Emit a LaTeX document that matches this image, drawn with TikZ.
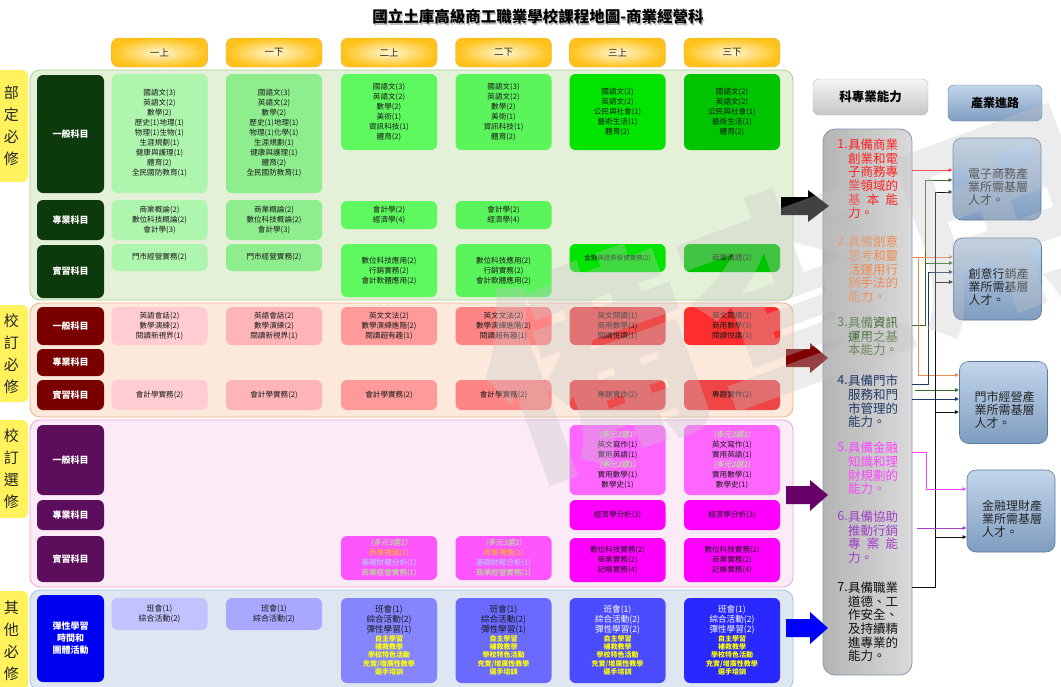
\documentclass[tikz,border=0pt]{standalone}
\usepackage{fontspec}
\setmainfont{Noto Sans CJK TC}
\newfontfamily\slcjk[FakeSlant=0.2]{Noto Sans CJK TC}
\usetikzlibrary{arrows.meta}
\definecolor{pnlG}{HTML}{E4F1D8}\definecolor{pnlGd}{HTML}{A9D18E}
\definecolor{pnlR}{HTML}{FCE9DC}\definecolor{pnlRd}{HTML}{F4B183}
\definecolor{pnlP}{HTML}{FCEAF6}\definecolor{pnlPd}{HTML}{E6A8D7}
\definecolor{pnlB}{HTML}{DEE6F2}\definecolor{pnlBd}{HTML}{9DC3E6}
\definecolor{hdrIn}{HTML}{FFF6D0}\definecolor{hdrOut}{HTML}{FFC21A}\definecolor{hdrLine}{HTML}{E8B040}
\definecolor{tagY}{HTML}{FFF25C}
\definecolor{labG}{HTML}{0D3A0D}\definecolor{labR}{HTML}{7A0000}\definecolor{labP}{HTML}{5C0D5C}\definecolor{labB}{HTML}{0000F0}
\definecolor{g1}{HTML}{AEF5AE}\definecolor{g2}{HTML}{8EEE8E}\definecolor{g3}{HTML}{5EF95E}\definecolor{g4}{HTML}{5AF55A}\definecolor{g5}{HTML}{00E400}\definecolor{g6}{HTML}{00C400}
\definecolor{r1}{HTML}{FFCDD1}\definecolor{r2}{HTML}{FFB4B8}\definecolor{r3}{HTML}{FF9A9A}\definecolor{r4}{HTML}{FF8585}\definecolor{r5}{HTML}{EE4B4B}\definecolor{r6}{HTML}{FF2E2E}\definecolor{r6b}{HTML}{F04545}
\definecolor{m1}{HTML}{FF66FF}\definecolor{m2}{HTML}{FF00FF}\definecolor{m3}{HTML}{FF55FF}
\definecolor{b1}{HTML}{C2C2FF}\definecolor{b2}{HTML}{A8A8FF}\definecolor{b3}{HTML}{8585FF}\definecolor{b4}{HTML}{6A6AFF}\definecolor{b5}{HTML}{4B4BFF}\definecolor{b6}{HTML}{2929FF}
\definecolor{tGreen}{HTML}{A6FF80}\definecolor{tOrange}{HTML}{FFC000}\definecolor{tBlue}{HTML}{A0DCFF}\definecolor{tYel}{HTML}{FFFF00}
\definecolor{aR}{HTML}{FF2020}\definecolor{aO}{HTML}{F08A50}\definecolor{aG}{HTML}{3F6B2A}\definecolor{aB}{HTML}{1F3A68}\definecolor{aM}{HTML}{FF44FF}\definecolor{aP}{HTML}{A040C8}\definecolor{aK}{HTML}{111111}
\definecolor{carT}{HTML}{C2D5EB}\definecolor{carB}{HTML}{7F9DC0}\definecolor{carD}{HTML}{5A7A9E}
\definecolor{ablL}{HTML}{B4B4B4}\definecolor{ablR}{HTML}{DADADA}\definecolor{ablD}{HTML}{8497B0}
\definecolor{arrR}{HTML}{7F0000}\definecolor{arrP}{HTML}{660066}
\begin{document}
\begin{tikzpicture}[x=1pt,y=-1pt,
  every node/.style={inner sep=0pt},
  panel/.style={rounded corners=10pt, line width=0.8pt, minimum width=763pt},
  hdr/.style={rounded corners=7pt, inner color=hdrIn, outer color=hdrOut, draw=hdrLine, line width=0.4pt, minimum width=96pt, minimum height=29pt, font=\fontsize{9.5}{10}\selectfont, text=black!85},
  tag/.style={rounded corners=6pt, fill=tagY, minimum width=33pt, align=center, font=\fontsize{15}{22}\selectfont, text=black!85},
  lab/.style={rounded corners=6pt, minimum width=67pt, align=center, text=white, font=\fontsize{9}{12}\selectfont\bfseries},
  cb/.style={rounded corners=6pt, minimum width=96pt, align=center, text=black!90, font=\fontsize{7.6}{10}\selectfont},
  abn/.style={anchor=north east, font=\fontsize{12.5}{13.6}\selectfont},
  abl/.style={anchor=north west, align=left, font=\fontsize{12.5}{13.6}\selectfont},
  car/.style={rounded corners=9pt, top color=carT, bottom color=carB, draw=carD, line width=0.6pt, minimum width=88pt, minimum height=82pt},
  cart/.style={align=left, font=\fontsize{12}{12.8}\selectfont, text=black!85},
  conn/.style={line width=0.9pt, -{Latex[length=4pt,width=4pt]}},
  line/.style={line width=0.9pt}
]
\useasboundingbox (0,0) rectangle (1061,686);
\fill[white] (0,0) rectangle (1061,686);

% title
\node[font=\fontsize{15.5}{16}\selectfont\bfseries, text=gray!55] (titlesh) at (539.2,18.2) {國立土庫高級商工職業學校課程地圖-商業經營科};
\node[font=\fontsize{15.5}{16}\selectfont\bfseries, text=black] (title) at (538,17) {國立土庫高級商工職業學校課程地圖-商業經營科};

% headers
\node[hdr] (h1) at (159.5,52.5) {一上};
\node[hdr] (h2) at (274,52.5) {一下};
\node[hdr] (h3) at (389,52.5) {二上};
\node[hdr] (h4) at (503.5,52.5) {二下};
\node[hdr] (h5) at (617.5,52.5) {三上};
\node[hdr] (h6) at (732,52.5) {三下};

% panels
\node[panel, fill=pnlG, draw=pnlGd, minimum height=230pt] (P1) at (411.5,185) {};
\node[panel, fill=pnlR, draw=pnlRd, minimum height=114pt] (P2) at (411.5,360) {};
\node[panel, fill=pnlP, draw=pnlPd, minimum height=167pt] (P3) at (411.5,503.5) {};
\node[panel, fill=pnlB, draw=pnlBd, minimum height=100pt] (P4) at (411.5,640) {};

% side tags
\node[tag, minimum height=112pt] (T1) at (11.5,126) {部\\定\\必\\修};
\node[tag, minimum height=97pt] (T2) at (11.5,353.5) {校\\訂\\必\\修};
\node[tag, minimum height=98pt] (T3) at (11.5,469) {校\\訂\\選\\修};
\node[tag, minimum height=100pt] (T4) at (11.5,641) {其\\他\\必\\修};

% row labels
\node[lab, fill=labG, minimum height=118pt] (L1) at (70.5,134) {一般科目};
\node[lab, fill=labG, minimum height=40pt] (L2) at (70.5,220) {專業科目};
\node[lab, fill=labG, minimum height=53pt] (L3) at (70.5,271.5) {實習科目};
\node[lab, fill=labR, minimum height=38pt] (L4) at (70.5,326) {一般科目};
\node[lab, fill=labR, minimum height=27pt] (L5) at (70.5,362.5) {專業科目};
\node[lab, fill=labR, minimum height=30pt] (L6) at (70.5,395) {實習科目};
\node[lab, fill=labP, minimum height=70pt] (L7) at (70.5,460) {一般科目};
\node[lab, fill=labP, minimum height=30pt] (L8) at (70.5,515) {專業科目};
\node[lab, fill=labP, minimum height=46pt] (L9) at (70.5,559) {實習科目};
\node[lab, fill=labB, minimum height=87pt] (L10) at (70.5,638.5) {彈性學習\\時間和\\團體活動};

% 部定 一般
\node[cb, fill=g1, minimum height=119pt] (g1n) at (159.5,133.5) {國語文(3)\\英語文(2)\\數學(2)\\歷史(1)地理(1)\\物理(1)生物(1)\\生涯規劃(1)\\健康與護理(1)\\體育(2)\\全民國防教育(1)};
\node[cb, fill=g2, minimum height=119pt] (g2n) at (274,133.5) {國語文(3)\\英語文(2)\\數學(2)\\歷史(1)地理(1)\\物理(1)化學(1)\\生涯規劃(1)\\健康與護理(1)\\體育(2)\\全民國防教育(1)};
\node[cb, fill=g3, minimum height=76pt] (g3n) at (389,112) {國語文(3)\\英語文(2)\\數學(2)\\美術(1)\\資訊科技(1)\\體育(2)};
\node[cb, fill=g4, minimum height=76pt] (g4n) at (503.5,112) {國語文(3)\\英語文(2)\\數學(2)\\美術(1)\\資訊科技(1)\\體育(2)};
\node[cb, fill=g5, minimum height=76pt] (g5n) at (617.5,112) {國語文(2)\\英語文(2)\\公民與社會(1)\\藝術生活(1)\\體育(2)};
\node[cb, fill=g6, minimum height=76pt] (g6n) at (732,112) {國語文(2)\\英語文(2)\\公民與社會(1)\\藝術生活(1)\\體育(2)};
% 部定 專業
\node[cb, fill=g1, minimum height=40pt] (p1) at (159.5,220) {商業概論(2)\\數位科技概論(2)\\會計學(3)};
\node[cb, fill=g2, minimum height=40pt] (p2) at (274,220) {商業概論(2)\\數位科技概論(2)\\會計學(3)};
\node[cb, fill=g3, minimum height=28pt] (p3) at (389,215) {會計學(2)\\經濟學(4)};
\node[cb, fill=g4, minimum height=28pt] (p4) at (503.5,215) {會計學(2)\\經濟學(4)};
% 部定 實習
\node[cb, fill=g1, minimum height=27pt] (s1) at (159.5,257.5) {門市經營實務(2)};
\node[cb, fill=g2, minimum height=27pt] (s2) at (274,257.5) {門市經營實務(2)};
\node[cb, fill=g3, minimum height=53pt] (s3) at (389,270.5) {數位科技應用(2)\\行銷實務(2)\\會計軟體應用(2)};
\node[cb, fill=g4, minimum height=53pt] (s4) at (503.5,270.5) {數位科技應用(2)\\行銷實務(2)\\會計軟體應用(2)};
\node[cb, fill=g5, minimum height=28pt, font=\fontsize{6.5}{8}\selectfont] (s5) at (617.5,258) {金融與證券投資實務(2)};
\node[cb, fill=g6, minimum height=28pt] (s6) at (732,258) {商業溝通(2)};

% 校訂必修 一般
\node[cb, fill=r1, minimum height=38pt] (rg1) at (159.5,326) {英語會話(2)\\數學演練(2)\\閱讀新視界(1)};
\node[cb, fill=r2, minimum height=38pt] (rg2) at (274,326) {英語會話(2)\\數學演練(2)\\閱讀新視界(1)};
\node[cb, fill=r3, minimum height=38pt] (rg3) at (389,326) {英文文法(2)\\數學演練進階(2)\\閱讀超有趣(1)};
\node[cb, fill=r4, minimum height=38pt] (rg4) at (503.5,326) {英文文法(2)\\數學演練進階(2)\\閱讀超有趣(1)};
\node[cb, fill=r5, minimum height=38pt] (rg5) at (617.5,326) {英文閱讀(1)\\商用數學(3)\\閱讀悅讀(1)};
\node[cb, fill=r6, minimum height=38pt] (rg6) at (732,326) {英文閱讀(1)\\商用數學(3)\\閱讀悅讀(1)};
% 校訂必修 實習
\node[cb, fill=r1, minimum height=30pt] (rs1) at (159.5,395) {會計學實務(2)};
\node[cb, fill=r2, minimum height=30pt] (rs2) at (274,395) {會計學實務(2)};
\node[cb, fill=r3, minimum height=30pt] (rs3) at (389,395) {會計學實務(2)};
\node[cb, fill=r4, minimum height=30pt] (rs4) at (503.5,395) {會計學實務(2)};
\node[cb, fill=r5, minimum height=30pt] (rs5) at (617.5,395) {專題實作(2)};
\node[cb, fill=r6b, minimum height=30pt] (rs6) at (732,395) {專題實作(2)};

% 校訂選修
\node[cb, fill=m1, minimum height=70pt] (eg5) at (617.5,460) {{\slcjk\color{tGreen}(多元2選1)}\\英文寫作(1)\\實用英語(1)\\{\slcjk\color{tGreen}(多元2選1)}\\實用數學(1)\\數學史(1)};
\node[cb, fill=m1, minimum height=70pt] (eg6) at (732,460) {{\slcjk\color{tGreen}(多元2選1)}\\英文寫作(1)\\實用英語(1)\\{\slcjk\color{tGreen}(多元2選1)}\\實用數學(1)\\數學史(1)};
\node[cb, fill=m2, minimum height=30pt] (ep5) at (617.5,515) {經濟學分析(3)};
\node[cb, fill=m2, minimum height=30pt] (ep6) at (732,515) {經濟學分析(3)};
\node[cb, fill=m3, minimum height=44pt] (es3) at (389,558) {{\slcjk\color{tGreen}(多元3選1)}\\{\color{tOrange}商業禮儀(1)}\\{\color{tBlue}基礎財報分析(1)}\\{\color{tGreen}商業經營實務(1)}};
\node[cb, fill=m3, minimum height=44pt] (es4) at (503.5,558) {{\slcjk\color{tGreen}(多元3選1)}\\{\color{tOrange}商業禮儀(1)}\\{\color{tBlue}基礎財報分析(1)}\\{\color{tGreen}商業經營實務(1)}};
\node[cb, fill=m2, minimum height=44pt] (es5) at (617.5,560) {數位科技實務(2)\\商業實務(2)\\記帳實務(4)};
\node[cb, fill=m2, minimum height=44pt] (es6) at (732,560) {數位科技實務(2)\\商業實務(2)\\記帳實務(4)};

% 其他必修
\node[cb, fill=b1, minimum height=32pt, font=\fontsize{8}{10}\selectfont] (o1) at (159.5,614) {班會(1)\\綜合活動(2)};
\node[cb, fill=b2, minimum height=32pt, font=\fontsize{8}{10}\selectfont] (o2) at (274,614) {班會(1)\\綜合活動(2)};
\node[cb, fill=b3, minimum height=85pt, font=\fontsize{7}{8.4}\selectfont] (o3) at (389,640.5) {{\fontsize{8.6}{8}\selectfont 班會(1)}\\{\fontsize{8.6}{8}\selectfont 綜合活動(2)}\\{\fontsize{8.6}{8}\selectfont 彈性學習(1)}\\{\bfseries\color{tYel}自主學習}\\{\bfseries\color{tYel}補救教學}\\{\bfseries\color{tYel}學校特色活動}\\{\bfseries\color{tYel}充實/增廣性教學}\\{\bfseries\color{tYel}選手培訓}};
\node[cb, fill=b4, minimum height=85pt, font=\fontsize{7}{8.4}\selectfont] (o4) at (503.5,640.5) {{\fontsize{8.6}{8}\selectfont 班會(1)}\\{\fontsize{8.6}{8}\selectfont 綜合活動(2)}\\{\fontsize{8.6}{8}\selectfont 彈性學習(1)}\\{\bfseries\color{tYel}自主學習}\\{\bfseries\color{tYel}補救教學}\\{\bfseries\color{tYel}學校特色活動}\\{\bfseries\color{tYel}充實/增廣性教學}\\{\bfseries\color{tYel}選手培訓}};
\node[cb, fill=b5, minimum height=85pt, font=\fontsize{7}{8.4}\selectfont] (o5) at (617.5,640.5) {{\fontsize{8.6}{8}\selectfont\color{white}班會(1)}\\{\fontsize{8.6}{8}\selectfont\color{white}綜合活動(2)}\\{\fontsize{8.6}{8}\selectfont\color{white}彈性學習(2)}\\{\bfseries\color{tYel}自主學習}\\{\bfseries\color{tYel}補救教學}\\{\bfseries\color{tYel}學校特色活動}\\{\bfseries\color{tYel}充實/增廣性教學}\\{\bfseries\color{tYel}選手培訓}};
\node[cb, fill=b6, minimum height=85pt, font=\fontsize{7}{8.4}\selectfont] (o6) at (732,640.5) {{\fontsize{8.6}{8}\selectfont\color{white}班會(1)}\\{\fontsize{8.6}{8}\selectfont\color{white}綜合活動(2)}\\{\fontsize{8.6}{8}\selectfont\color{white}彈性學習(2)}\\{\bfseries\color{tYel}自主學習}\\{\bfseries\color{tYel}補救教學}\\{\bfseries\color{tYel}學校特色活動}\\{\bfseries\color{tYel}充實/增廣性教學}\\{\bfseries\color{tYel}選手培訓}};

% right headers
\node[rounded corners=6pt, top color=gray!8, bottom color=gray!45, draw=gray!55, minimum width=115pt, minimum height=36pt, font=\fontsize{12.5}{14}\selectfont\bfseries] (hdA) at (870.5,97) {科專業能力};
\node[rounded corners=6pt, top color=carT, bottom color=carB, draw=carD, minimum width=94pt, minimum height=36pt, font=\fontsize{12}{14}\selectfont\bfseries] (hdB) at (995,103) {產業進路};

% abilities box
\node[rounded corners=12pt, left color=ablL, right color=ablR, draw=ablD, line width=0.8pt, minimum width=89pt, minimum height=546pt] (abil) at (867.5,402) {};
\node[abn,text=aR] (n1) at (848,139) {1.};
\node[abl,text=aR] (a1) at (848,139) {具備商業\\創業和電\\子商務專\\業領域的\\基\hspace{0.5em}本\hspace{0.5em}能\\力。};
\node[abn,text=aO] (n2) at (848,236) {2.};
\node[abl,text=aO] (a2) at (848,236) {具備創意\\思考和靈\\活運用行\\銷手法的\\能力。};
\node[abn,text=aG] (n3) at (848,317) {3.};
\node[abl,text=aG] (a3) at (848,317) {具備資訊\\運用之基\\本能力。};
\node[abn,text=aB] (n4) at (848,375) {4.};
\node[abl,text=aB] (a4) at (848,375) {具備門市\\服務和門\\市管理的\\能力。};
\node[abn,text=aM] (n5) at (848,442) {5.};
\node[abl,text=aM] (a5) at (848,442) {具備金融\\知識和理\\財規劃的\\能力。};
\node[abn,text=aP] (n6) at (848,511) {6.};
\node[abl,text=aP] (a6) at (848,511) {具備協助\\推動行銷\\專\hspace{0.5em}案\hspace{0.5em}能\\力。};
\node[abn,text=aK] (n7) at (848,582) {7.};
\node[abl,text=aK] (a7) at (848,582) {具備職業\\道德、工\\作安全、\\及持續精\\進專業的\\能力。};

% career boxes
\node[car] (c1) at (997,179) {};
\node[cart] (c1t) at (998,187) {電子商務產\\業所需基層\\人才。};
\node[car] (c2) at (997.5,279) {};
\node[cart] (c2t) at (998.5,287) {創意行銷產\\業所需基層\\人才。};
\node[car] (c3) at (1003.5,402.5) {};
\node[cart] (c3t) at (1004.5,410) {門市經營產\\業所需基層\\人才。};
\node[car] (c4) at (1011,511) {};
\node[cart] (c4t) at (1012,519) {金融理財產\\業所需基層\\人才。};

% connectors
\draw[conn,aR] (abil.east |- 0,170) -- (c1.west |- 0,170);
\draw[conn,aG] (abil.east |- 0,325) -- (925,325) -- (925,180) -- (c1.west |- 0,180);
\draw[conn,aG] (925,263) -- (c2.west |- 0,263);
\coordinate (gq) at (915,390);
\draw[conn,aG] (gq) -- (c3.west |- 0,390);
\draw[conn,aO] (abil.east |- 0,257) -- (c2.west |- 0,257);
\draw[conn,aO] (918,257) -- (918,375) -- (c3.west |- 0,375);
\draw[conn,aB] (abil.east |- 0,384) -- (928,384) -- (928,272) -- (c2.west |- 0,272);
\draw[conn,aB] (abil.east |- 0,399) -- (c3.west |- 0,399);
\draw[line,aK] (abil.east |- 0,587) -- (935,587) -- (935,192);
\draw[conn,aK] (935,192) -- (c1.west |- 0,192);
\draw[conn,aK] (935,282) -- (c2.west |- 0,282);
\draw[conn,aK] (935,412) -- (c3.west |- 0,412);
\draw[conn,aK] (935,537) -- (c4.west |- 0,537);
\draw[conn,aM] (abil.east |- 0,452) -- (926,452) -- (926,489) -- (c4.west |- 0,489);
\coordinate (pq) at (917,528);
\draw[conn,aP] (pq) -- (c4.west |- 0,528);

% block arrows
\fill[black] (781,197) -- (808,197) -- (808,190) -- (829,206) -- (808,222) -- (808,215) -- (781,215) -- cycle;
\fill[arrR] (786,349) -- (810,349) -- (810,343) -- (828,358) -- (810,373) -- (810,367) -- (786,367) -- cycle;
\fill[arrP] (786,486) -- (810,486) -- (810,480) -- (828,495) -- (810,511) -- (810,504) -- (786,504) -- cycle;
\fill[blue] (786,619) -- (810,619) -- (810,612) -- (828,628) -- (810,644) -- (810,637) -- (786,637) -- cycle;

% watermark
\node[rotate=20, font=\fontsize{215}{215}\selectfont\bfseries, text=gray!45, opacity=0.33] (wm) at (795,290) {備查用};
\end{tikzpicture}
\end{document}
